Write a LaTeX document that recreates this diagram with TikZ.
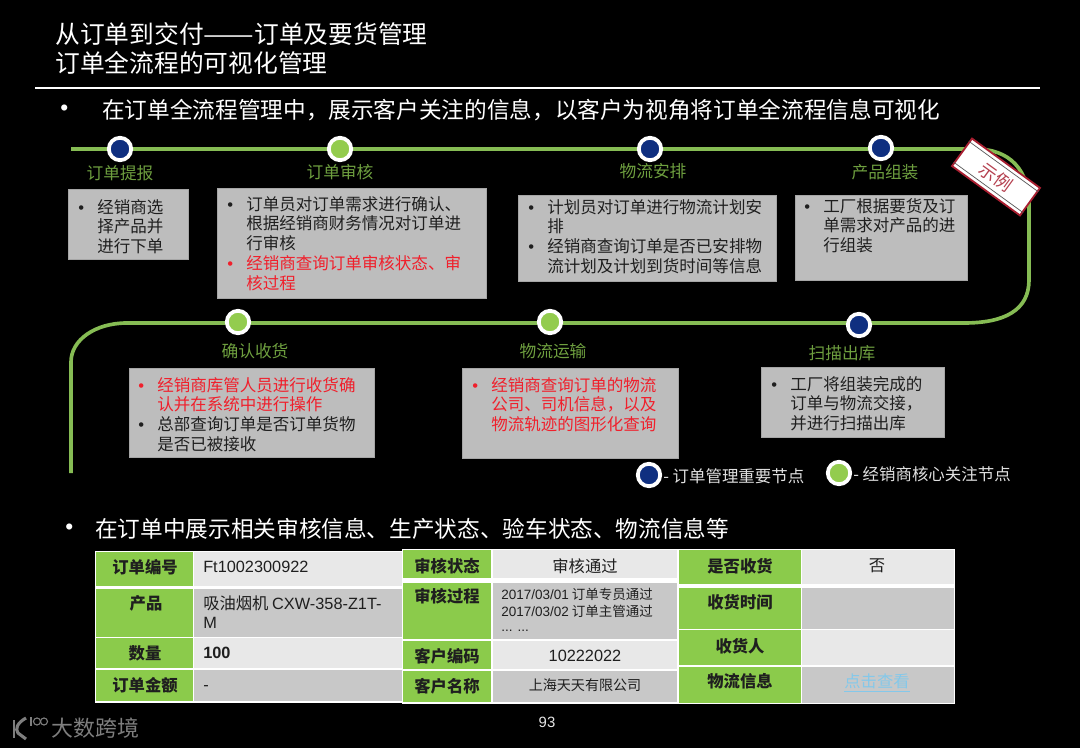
\documentclass[tikz,border=0pt]{standalone}
\usepackage{fontspec}
\usepackage{xcolor}
\usepackage{tikz}
\usetikzlibrary{positioning,calc,fit}
\setmainfont{Noto Sans CJK SC}
\newfontfamily\arialfont{Liberation Sans}
\definecolor{trackgreen}{HTML}{86BC54}
\definecolor{labelgreen}{HTML}{6E9F3F}
\definecolor{nodenavy}{HTML}{0F2F80}
\definecolor{nodegreen}{HTML}{93CC4E}
\definecolor{panelgrey}{HTML}{BDBDBD}
\definecolor{hotred}{HTML}{F0202C}
\definecolor{headgreen}{HTML}{8BCB4B}
\definecolor{celllight}{HTML}{E8E8E8}
\definecolor{cellmid}{HTML}{C8C8C8}
\definecolor{linkblue}{HTML}{84C8EA}
\definecolor{stampred}{HTML}{A81E30}
\definecolor{logogrey}{HTML}{7E7E7E}
\newcommand{\itemline}[2][black!88]{\par\lineskip=3.1pt\noindent{\color{#1}\makebox[13.5pt][l]{\arialfont •}\parbox[t]{7cm}{\baselineskip=14.1pt #2}\par}}
\begin{document}
\begin{tikzpicture}[
  x=0.025cm, y=-0.025cm,
  track/.style={draw=trackgreen, line width=2.6pt},
  ringmark/.style={circle, draw=white, line width=2.7pt, inner sep=0pt, minimum size=0.56cm},
  navymark/.style={ringmark, fill=nodenavy},
  greenmark/.style={ringmark, fill=nodegreen},
  steplabel/.style={text=labelgreen, font=\fontsize{11.9}{14}\selectfont, inner sep=0pt},
  panel/.style={fill=panelgrey, draw=black!35, line width=0.3pt, inner sep=0pt},
  paneltext/.style={anchor=north west, inner sep=0pt, align=left, text width=8cm,
                    font=\fontsize{11.75}{14.1}\selectfont},
  cell/.style={inner sep=0pt, fill=#1},
  thead/.style={inner sep=0pt, text=black!88, font=\fontsize{11.6}{14}\selectfont\bfseries},
  tval/.style={inner sep=0pt, text=black!88, font=\fontsize{11.6}{14}\selectfont},
  titletext/.style={anchor=west, inner sep=0pt, text=white, font=\fontsize{17.6}{20}\selectfont},
  leadtext/.style={anchor=west, inner sep=0pt, text=white, font=\fontsize{16.1}{19}\selectfont},
  legendtext/.style={anchor=west, inner sep=0pt, text=white!88!black, font=\fontsize{11.7}{14}\selectfont}
]
% ----- page -----
\fill[black] (0,0) rectangle (1080,748);
\useasboundingbox (0,0) rectangle (1080,748);
% ----- heading -----
\node[titletext] (title1) at (55,34) {从订单到交付\scalebox{1.22}[1]{——}订单及要货管理};
\node[titletext] (title2) at (55,63) {订单全流程的可视化管理};
\coordinate (ruleleft) at (35,88);
\coordinate (ruleright) at (1040,88);
\draw[white, line width=1pt] (ruleleft) -- (ruleright);
\node[leadtext] (dot1) at (60,110) {\arialfont •};
\node[leadtext] (lead1) at (102,110) {在订单全流程管理中，展示客户关注的信息，以客户为视角将订单全流程信息可视化};
% ----- track -----
\coordinate (ta) at (71,149);
\coordinate (tb) at (975,149);
\coordinate (tc) at (1029,205);
\coordinate (td) at (1029,280);
\coordinate (te) at (964,323);
\coordinate (tf) at (127,323);
\coordinate (tg) at (71,362);
\coordinate (th) at (71,473);
\draw[track] (ta) -- (tb) .. controls (1010,149) and (1029,170) .. (tc) -- (td)
  .. controls (1029,310) and (1005,323) .. (te) -- (tf)
  .. controls (95,323) and (71,340) .. (tg) -- (th);
% ----- marks and their labels -----
\node[navymark]  (m1) at (120,149) {};
\node[greenmark] (m2) at (340,149) {};
\node[navymark]  (m3) at (650,149) {};
\node[navymark]  (m4) at (881,148) {};
\node[greenmark] (m5) at (238,322) {};
\node[greenmark] (m6) at (550,322) {};
\node[navymark]  (m7) at (859,325) {};
\node[steplabel] (l1) at (120,173) {订单提报};
\node[steplabel] (l2) at (340,172) {订单审核};
\node[steplabel] (l3) at (653,171) {物流安排};
\node[steplabel] (l4) at (885,172) {产品组装};
\node[steplabel] (l5) at (255,351) {确认收货};
\node[steplabel] (l6) at (553,351) {物流运输};
\node[steplabel] (l7) at (842,353) {扫描出库};
% ----- panels -----
\node[panel, fit={(68,189) (188,259)}]   (p1) {};
\node[panel, fit={(217,188) (486,298)}]  (p2) {};
\node[panel, fit={(518,195) (776,281)}]  (p3) {};
\node[panel, fit={(795,195) (967,280)}]  (p4) {};
\node[panel, fit={(129,368) (374,457)}]  (p5) {};
\node[panel, fit={(462,368) (678,458)}]  (p6) {};
\node[panel, fit={(761,367) (944,437)}]  (p7) {};
\node[paneltext] (t1) at (78,193)
  {\itemline{经销商选\\择产品并\\进行下单}};
\node[paneltext] (t2) at (227,190)
  {\itemline{订单员对订单需求进行确认、\\根据经销商财务情况对订单进\\行审核}
   \itemline[hotred]{经销商查询订单审核状态、审\\核过程}};
\node[paneltext] (t3) at (528,193)
  {\itemline{计划员对订单进行物流计划安\\排}
   \itemline{经销商查询订单是否已安排物\\流计划及计划到货时间等信息}};
\node[paneltext] (t4) at (804,192)
  {\itemline{工厂根据要货及订\\单需求对产品的进\\行组装}};
\node[paneltext] (t5) at (138,371)
  {\itemline[hotred]{经销商库管人员进行收货确\\认并在系统中进行操作}
   \itemline{总部查询订单是否订单货物\\是否已被接收}};
\node[paneltext] (t6) at (472,371)
  {\itemline[hotred]{经销商查询订单的物流\\公司、司机信息，以及\\物流轨迹的图形化查询}};
\node[paneltext] (t7) at (771,370)
  {\itemline{工厂将组装完成的\\订单与物流交接，\\并进行扫描出库}};
% ----- sample stamp -----
\node[rotate=-36, fill=white, draw=stampred, line width=1.3pt, minimum width=2.1cm, minimum height=0.85cm,
      inner sep=0pt, text=stampred!85!white, font=\fontsize{12.5}{14}\selectfont] (stamp) at (996,177) {示例};
\draw[black!65, line width=0.5pt] ($(stamp.north west)!0.14!(stamp.south west)$) -- ($(stamp.north east)!0.14!(stamp.south east)$);
\draw[black!65, line width=0.5pt] ($(stamp.north west)!0.86!(stamp.south west)$) -- ($(stamp.north east)!0.86!(stamp.south east)$);
% ----- legend -----
\node[navymark]  (k1) at (649,475) {};
\node[legendtext] (k1t) at (663,476) {- 订单管理重要节点};
\node[greenmark] (k2) at (839,473) {};
\node[legendtext] (k2t) at (853,474) {- 经销商核心关注节点};
% ----- order record -----
\node[leadtext] (dot2) at (65,529) {\arialfont •};
\node[leadtext] (lead2) at (95,529) {在订单中展示相关审核信息、生产状态、验车状态、物流信息等};
\node[cell=white, fit={(95,551) (403,703)}] (back1) {};
\node[cell=white, fit={(402,549) (678,704)}] (back2) {};
\node[cell=white, fit={(678,549) (955,704)}] (back3) {};
\foreach \n/\xa/\ya/\xb/\yb/\c in {
  a1/96/552/193/586/headgreen, a2/96/589/193/637/headgreen, a3/96/638/193/668/headgreen, a4/96/670/193/701/headgreen,
  av1/194/552/402/586/celllight, av2/194/589/402/637/cellmid, av3/194/638/402/668/celllight, av4/194/670/402/701/cellmid,
  b1/403/550/491/578/headgreen, b2/403/583/491/639/headgreen, b3/403/641/491/669/headgreen, b4/403/671/491/702/headgreen,
  bv1/493/550/677/578/celllight, bv2/493/583/677/639/cellmid, bv3/493/641/677/669/celllight, bv4/493/671/677/702/cellmid,
  c1/679/550/801/584/headgreen, c2/679/588/801/629/headgreen, c3/679/630/801/665/headgreen, c4/679/667/801/703/headgreen,
  cv1/802/550/954/584/celllight, cv2/802/588/954/629/cellmid, cv3/802/630/954/665/celllight, cv4/802/667/954/703/cellmid}
  {\node[cell=\c, fit={(\xa,\ya) (\xb,\yb)}] (\n) {};}
\node[thead] (ah1) at (145,567) {订单编号};
\node[thead] (ah2) at (146,603) {产品};
\node[thead] (ah3) at (145,653) {数量};
\node[thead] (ah4) at (145,685) {订单金额};
\node[tval, anchor=west] (at1) at (203,567) {\arialfont Ft1002300922};
\node[tval, anchor=west] (at2) at (203,603) {吸油烟机 {\arialfont CXW-358-Z1T-}};
\node[tval, anchor=west] (at2b) at (203,623) {\arialfont M};
\node[tval, anchor=west] (at3) at (203,653) {\arialfont\bfseries 100};
\node[tval, anchor=west] (at4) at (203,688) {\arialfont -};
\node[thead] (bh1) at (447,566) {审核状态};
\node[thead] (bh2) at (447,596) {审核过程};
\node[thead] (bh3) at (447,656) {客户编码};
\node[thead] (bh4) at (447,686) {客户名称};
\node[tval] (bt1) at (585,566) {审核通过};
\node[tval, anchor=west, font=\fontsize{9.6}{12}\selectfont] (bt2) at (501,594) {{\arialfont 2017/03/01} 订单专员通过};
\node[tval, anchor=west, font=\fontsize{9.6}{12}\selectfont] (bt2b) at (501,611) {{\arialfont 2017/03/02} 订单主管通过};
\node[tval, anchor=west, font=\fontsize{9.6}{12}\selectfont] (bt2c) at (501,631) {\arialfont ... ...};
\node[tval] (bt3) at (585,656) {\arialfont 10222022};
\node[tval, font=\fontsize{10}{12}\selectfont] (bt4) at (585,685) {上海天天有限公司};
\node[thead] (ch1) at (740,566) {是否收货};
\node[thead] (ch2) at (740,602) {收货时间};
\node[thead] (ch3) at (740,646) {收货人};
\node[thead] (ch4) at (740,681) {物流信息};
\node[tval] (ct1) at (877,566) {否};
\node[tval, text=linkblue] (ct4) at (877,683) {\underline{点击查看}};
% ----- footer -----
\node[inner sep=0pt, text=white!90!black, font=\fontsize{10.6}{13}\selectfont\arialfont] (pageno) at (547,722) {93};
\node[inner sep=0pt, anchor=west, text=logogrey, font=\fontsize{15.6}{18}\selectfont] (brand) at (51,728) {大数跨境};
\draw[logogrey, line width=1.8pt] (14,720) -- (14,738);
\draw[logogrey, line width=2.2pt] (26,718) .. controls (17,723) and (15,729) .. (18,733) -- (26,739);
\draw[logogrey, line width=0.8pt] (31,717) -- (31,726);
\draw[logogrey, line width=0.8pt] (37,721.5) circle (3.5);
\draw[logogrey, line width=0.8pt] (44,721.5) circle (3.5);
\end{tikzpicture}
\end{document}
